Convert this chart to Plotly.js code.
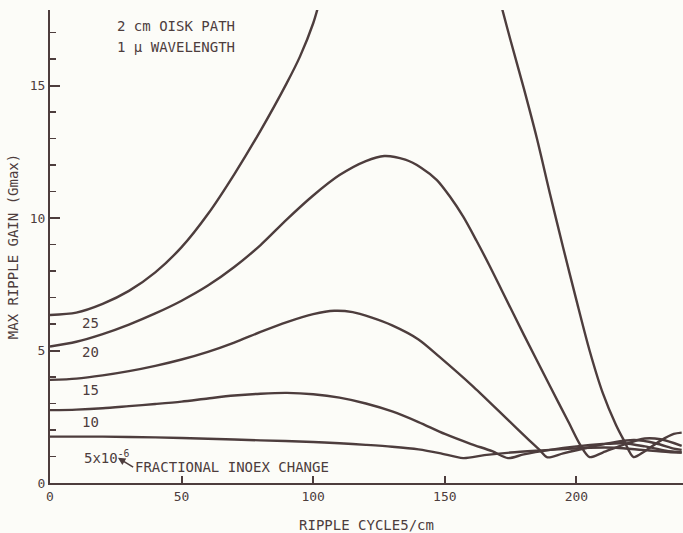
<!DOCTYPE html>
<html>
<head>
<meta charset="utf-8">
<script src="https://cdn.plot.ly/plotly-3.0.1.min.js"></script>
<style>html,body{margin:0;padding:0;background:#fcfcf8;}#chart{width:683px;height:533px;}</style>
</head>
<body>
<div id="chart"></div>
<script>
// Ripple cycles/cm (x) and max ripple gain Gmax (y) for each fractional index change
const x5  = [0, 20, 40, 60, 80, 100, 110, 120, 130, 140, 148, 157, 165, 175, 185, 195, 205, 215, 225, 235, 240];
const y5  = [1.75, 1.75, 1.72, 1.67, 1.61, 1.55, 1.5, 1.44, 1.37, 1.27, 1.13, 0.94, 1.05, 1.15, 1.22, 1.28, 1.33, 1.33, 1.25, 1.17, 1.15];

const x10 = [0, 10, 20, 30, 40, 50, 60, 70, 80, 90, 100, 110, 120, 130, 140, 150, 160, 168, 174, 180, 190, 200, 210, 218, 226, 234, 240];
const y10 = [2.75, 2.77, 2.82, 2.9, 2.98, 3.07, 3.19, 3.3, 3.37, 3.4, 3.35, 3.22, 3.0, 2.7, 2.3, 1.85, 1.47, 1.2, 0.94, 1.08, 1.25, 1.38, 1.47, 1.5, 1.38, 1.22, 1.15];

const x15 = [0, 10, 20, 30, 40, 50, 60, 70, 80, 90, 100, 108, 115, 122, 130, 140, 148, 161, 174, 182, 186, 189, 195, 205, 215, 222, 230, 237, 240];
const y15 = [3.89, 3.94, 4.06, 4.22, 4.42, 4.66, 4.95, 5.3, 5.7, 6.07, 6.37, 6.5, 6.45, 6.25, 5.95, 5.42, 4.76, 3.62, 2.38, 1.62, 1.25, 0.97, 1.12, 1.35, 1.55, 1.62, 1.5, 1.3, 1.25];

const x20 = [0, 10, 20, 30, 40, 50, 60, 70, 80, 90, 100, 110, 120, 127, 135, 141, 147, 152, 157, 162, 167, 172, 180, 190, 197, 201.5, 205, 210, 218, 226, 232, 240];
const y20 = [5.15, 5.33, 5.62, 5.98, 6.4, 6.88, 7.45, 8.15, 8.98, 9.95, 10.85, 11.62, 12.15, 12.34, 12.2, 11.9, 11.43, 10.8, 10.05, 9.15, 8.2, 7.2, 5.6, 3.65, 2.3, 1.43, 0.98, 1.15, 1.45, 1.68, 1.65, 1.4];

// 25 x 10^-6 curve leaves the top of the frame between ~102 and ~171 cycles/cm
const x25 = [0, 10, 20, 30, 40, 50, 60, 70, 80, 90, 95, 100, 102.5, null, 171, 171.9, 175, 180, 185, 190, 195, 200, 205, 210, 215, 218, 221.7, 226, 232, 237, 240];
const y25 = [6.34, 6.43, 6.76, 7.25, 7.95, 8.9, 10.15, 11.65, 13.3, 15.1, 16.1, 17.35, 18.2, null, 18.2, 17.85, 16.7, 14.9, 13.0, 10.9, 8.87, 6.9, 5.0, 3.4, 2.2, 1.62, 0.98, 1.2, 1.6, 1.85, 1.9];

const curveLabels = ["25", "20", "15", "10"];
const labelY = [6.04, 4.94, 3.5, 2.3];

const xTicks = [0, 50, 100, 150, 200];
const ink = "#4d3d3d";
const fontFam = "DejaVu Sans Mono, monospace";

const series = [[x5, y5], [x10, y10], [x15, y15], [x20, y20], [x25, y25]];
const traces = series.map(s => ({
  x: s[0], y: s[1], type: "scatter", mode: "lines",
  line: {color: ink, width: 2.4, shape: "spline", smoothing: 0.8},
  connectgaps: false, hoverinfo: "skip", showlegend: false
}));

const annotations = [
  {x: 24.7, y: 17.25, xref: "x", yref: "y", text: "2 cm OISK PATH", showarrow: false, xanchor: "left", yanchor: "middle", font: {family: fontFam, size: 14, color: ink}},
  {x: 24.7, y: 16.45, xref: "x", yref: "y", text: "1 \u03bc WAVELENGTH", showarrow: false, xanchor: "left", yanchor: "middle", font: {family: fontFam, size: 14, color: ink}},
  {x: 12.0, y: 1.0, xref: "x", yref: "y", text: "5x10<sup>-6</sup>", showarrow: false, xanchor: "left", yanchor: "middle", font: {family: fontFam, size: 14, color: ink}},
  {x: 25.8, y: 0.95, xref: "x", yref: "y", ax: 31.6, ay: 0.6, axref: "x", ayref: "y",
   text: "FRACTIONAL INOEX CHANGE", xanchor: "left", yanchor: "middle",
   showarrow: true, arrowhead: 2, arrowsize: 1, arrowwidth: 1.5, arrowcolor: ink,
   font: {family: fontFam, size: 14, color: ink}}
];
curveLabels.forEach((t, i) => annotations.push({
  x: 15.2, y: labelY[i], xref: "x", yref: "y", text: t, showarrow: false,
  xanchor: "center", yanchor: "middle", font: {family: fontFam, size: 14, color: ink}
}));

const layout = {
  width: 683, height: 533,
  margin: {l: 50, r: 0, t: 10, b: 50},
  paper_bgcolor: "#fcfcf8", plot_bgcolor: "#fcfcf8",
  font: {family: fontFam, color: ink, size: 13},
  xaxis: {
    range: [0, 240.5], showgrid: false, zeroline: false,
    showline: true, linecolor: ink, linewidth: 2,
    tickvals: xTicks, ticks: "inside", ticklen: 7, tickwidth: 2, tickcolor: ink,
    tickfont: {family: fontFam, size: 13, color: ink},
    title: {text: "RIPPLE CYCLE5/cm", font: {family: fontFam, size: 14, color: ink}, standoff: 18}
  },
  yaxis: {
    range: [0, 17.85], showgrid: false, zeroline: false,
    showline: true, linecolor: ink, linewidth: 2,
    dtick: 5, tick0: 0, ticks: "inside", ticklen: 10, tickwidth: 2, tickcolor: ink,
    minor: {dtick: 1, ticks: "inside", ticklen: 6, tickwidth: 1.5, tickcolor: ink},
    tickfont: {family: fontFam, size: 13, color: ink},
    title: {text: "MAX RIPPLE GAIN (Gmax)", font: {family: fontFam, size: 14, color: ink}, standoff: 8}
  },
  annotations: annotations
};

Plotly.newPlot("chart", traces, layout, {displayModeBar: false, staticPlot: true});
</script>
</body>
</html>
